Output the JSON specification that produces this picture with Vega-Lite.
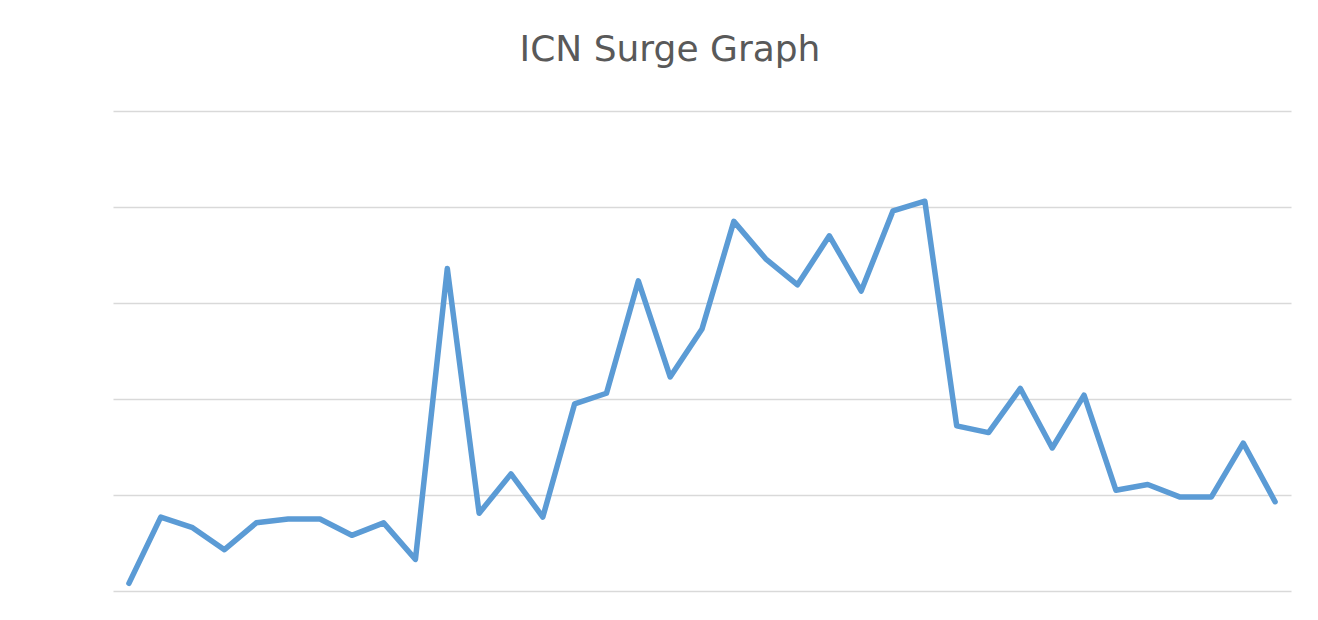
{
  "$schema": "https://vega.github.io/schema/vega-lite/v6.json",
  "width": 1178,
  "height": 480,
  "autosize": {"type": "none"},
  "padding": {"left": 113, "top": 111, "right": 27, "bottom": 29},
  "background": "white",
  "title": {
    "text": "ICN Surge Graph",
    "font": "DejaVu Sans",
    "fontSize": 36,
    "fontWeight": "normal",
    "color": "#595959",
    "anchor": "middle",
    "dx": -32,
    "offset": 42
  },
  "config": {
    "view": {"stroke": null}
  },
  "data": {
    "values": [
      {"i": 1, "v": 0.08}, {"i": 2, "v": 0.77}, {"i": 3, "v": 0.66}, {"i": 4, "v": 0.43},
      {"i": 5, "v": 0.71}, {"i": 6, "v": 0.75}, {"i": 7, "v": 0.75}, {"i": 8, "v": 0.58},
      {"i": 9, "v": 0.71}, {"i": 10, "v": 0.33}, {"i": 11, "v": 3.36}, {"i": 12, "v": 0.81},
      {"i": 13, "v": 1.22}, {"i": 14, "v": 0.77}, {"i": 15, "v": 1.95}, {"i": 16, "v": 2.06},
      {"i": 17, "v": 3.23}, {"i": 18, "v": 2.23}, {"i": 19, "v": 2.73}, {"i": 20, "v": 3.85},
      {"i": 21, "v": 3.46}, {"i": 22, "v": 3.19}, {"i": 23, "v": 3.70}, {"i": 24, "v": 3.125},
      {"i": 25, "v": 3.96}, {"i": 26, "v": 4.06}, {"i": 27, "v": 1.72}, {"i": 28, "v": 1.65},
      {"i": 29, "v": 2.11}, {"i": 30, "v": 1.49}, {"i": 31, "v": 2.04}, {"i": 32, "v": 1.05},
      {"i": 33, "v": 1.11}, {"i": 34, "v": 0.98}, {"i": 35, "v": 0.98}, {"i": 36, "v": 1.54},
      {"i": 37, "v": 0.93}
    ]
  },
  "mark": {"type": "line", "color": "#5B9BD5", "strokeWidth": 5.5, "strokeJoin": "round", "strokeCap": "round"},
  "encoding": {
    "x": {
      "field": "i",
      "type": "ordinal",
      "scale": {"type": "point", "padding": 0.5},
      "axis": null
    },
    "y": {
      "field": "v",
      "type": "quantitative",
      "scale": {"domain": [0, 5], "nice": false, "zero": true},
      "axis": {
        "values": [0, 1, 2, 3, 4, 5],
        "labels": false,
        "ticks": false,
        "domain": false,
        "title": null,
        "grid": true,
        "gridColor": "#d9d9d9",
        "gridWidth": 1.3
      }
    }
  }
}
